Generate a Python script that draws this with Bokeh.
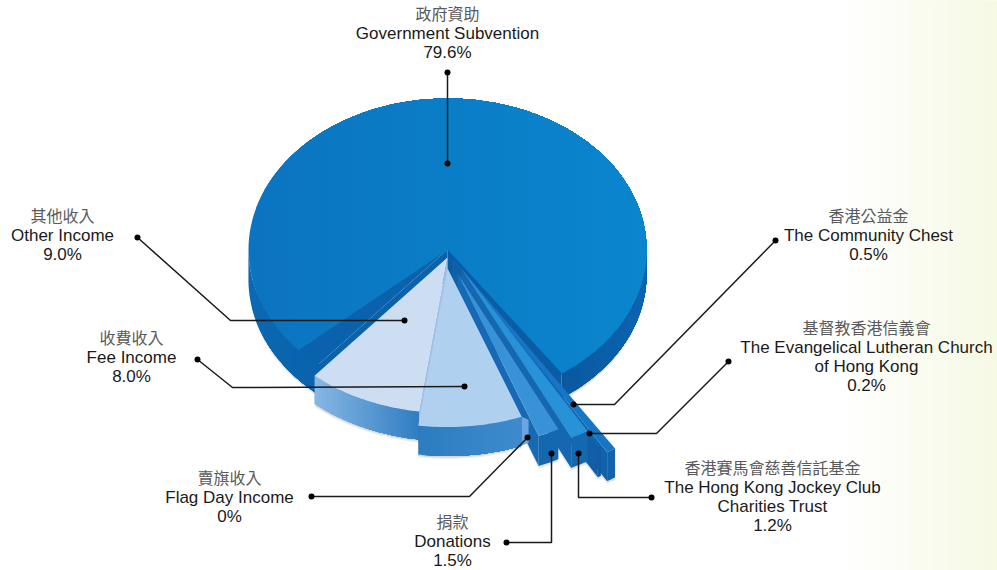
import math
from bokeh.plotting import figure
from bokeh.models import Range1d
from bokeh.core.properties import value
from bokeh.embed import file_html
from bokeh.resources import INLINE

# ---- data ----
categories_zh = ["政府資助", "香港公益金", "基督教香港信義會", "香港賽馬會慈善信託基金", "捐款", "賣旗收入", "收費收入", "其他收入"]
categories_en = ["Government Subvention", "The Community Chest", "The Evangelical Lutheran Church of Hong Kong",
                 "The Hong Kong Jockey Club Charities Trust", "Donations", "Flag Day Income", "Fee Income", "Other Income"]
shares = [79.6, 0.5, 0.2, 1.2, 1.5, 0.0, 8.0, 9.0]
share_labels = ["79.6%", "0.5%", "0.2%", "1.2%", "1.5%", "0%", "8.0%", "9.0%"]

W, H = 997, 570
CX, CY, RX, RY = 447, 249, 199, 151
START = 147.0   # clockwise from top, where the small slices begin

p = figure(width=W, height=H, x_range=Range1d(0, W), y_range=Range1d(H, 0),
           output_backend="svg", toolbar_location=None, min_border=0,
           background_fill_color="white", border_fill_color=None, outline_line_color=None)
p.axis.visible = False
p.grid.visible = False

def mix(c1, c2, f):
    f = max(0, min(1, f))
    return "#%02x%02x%02x" % tuple(round(a + (b - a) * f) for a, b in zip(c1, c2))

# background gradient at right (painted overlapping, so no seams)
for x in range(836, 997, 4):
    p.quad(left=[x], right=[997], top=[0], bottom=[570],
           color=mix((255, 255, 255), (245, 249, 228), (x - 836) / 160), line_color=None)

def pt(a, ax, ay, k, dy=0):
    r = math.radians(a)
    return ax + RX * k * math.sin(r), ay - RY * k * math.cos(r) + dy

def poly(points, color, alpha=1.0):
    p.patch([q[0] for q in points], [q[1] for q in points], fill_color=color, fill_alpha=alpha, line_color=None)

def arc(a0, a1, ax, ay, k, dy=0, step=1.0):
    n = max(1, int(abs(a1 - a0) / step))
    return [pt(a0 + (a1 - a0) * i / n, ax, ay, k, dy) for i in range(n + 1)]

def clip_right(points, c):
    out = []
    for i, q in enumerate(points):
        r = points[(i + 1) % len(points)]
        if q[0] >= c:
            out.append(q)
        if (q[0] >= c) != (r[0] >= c):
            f = (c - q[0]) / (r[0] - q[0])
            out.append((c, q[1] + f * (r[1] - q[1])))
    return out

def hgrad(points, c0, c1, step=8):
    """Paint a shape with a left-to-right gradient, each band lying over the last."""
    x0 = min(q[0] for q in points)
    x1 = max(q[0] for q in points)
    poly(points, mix(c0, c0, 0))
    x = x0 + step
    while x < x1:
        part = clip_right(points, x)
        if len(part) > 2:
            poly(part, mix(c0, c1, (x - x0) / (x1 - x0)))
        x += step

def wall(a0, a1, ax, ay, k, h, c_left, c_right, step=4):
    lo, hi = max(a0, 90), min(a1, 270)
    hgrad(arc(lo, hi, ax, ay, k) + arc(hi, lo, ax, ay, k, h), c_left, c_right, step)

def shadow(a0, a1, ax, ay, k, h):
    lo, hi = max(a0, 90), min(a1, 270)
    for d, al in ((3, .07), (1.5, .10)):
        poly(arc(lo, hi, ax, ay, k) + arc(hi, lo, ax, ay, k, h + d), "#000000", al)

def face(ang_, ax, ay, k, h, color):
    poly([(ax, ay), pt(ang_, ax, ay, k), pt(ang_, ax, ay, k, h), (ax, ay + h)], color)

def small(a0, a1, ax, ay, k, h, c_top, c_wall, c_left):
    poly([(ax, ay + h), pt(a1, ax, ay, k, h + 2.5), pt(a0, ax, ay, k, h + 2.5)], "#000000", 0.10)
    face(a1, ax, ay, k, h, c_left)
    poly(arc(a0, a1, ax, ay, k) + arc(a1, a0, ax, ay, k, h), c_wall)
    poly([(ax, ay)] + arc(a0, a1, ax, ay, k), c_top)

# angles from the shares
ang = {}
a = START
for name, s in zip(categories_en[1:], shares[1:]):
    ang[name] = (a, a + s * 3.6)
    a += s * 3.6
end_small = a
main_span = shares[0] * 3.6
m0, m1 = end_small + 8, end_small + main_span - 2

# main slice
shadow(end_small, 270, CX, CY, 1.0, 30)
shadow(90, START - 2, CX, CY, 1.0, 25)
wall(end_small, 270, CX, CY, 1.0, 30, (11, 104, 178), (10, 98, 170))
wall(90, START - 2, CX, CY, 1.0, 25, (10, 88, 160), (12, 100, 176))
face(end_small, CX, CY, 1.0, 30, "#0a62ad")
poly([(CX, CY)] + arc(end_small, m0, CX, CY, 1.0), "#0a62ad")
hgrad([(CX, CY)] + arc(m0, m1, CX, CY, 1.0), (11, 116, 192), (10, 134, 206))
face(START - 2, CX, CY, 1, 26, "#0b5ba5")

w = lambda n: ang[n]
small(*w("The Community Chest"), 452, 258, 1.50, 29, "#1676c3", "#1262ac", "#1062ab")
aa, bb = w("The Evangelical Lutheran Church of Hong Kong")
small(aa, bb, 454, 262, 1.42, 30, "#0e66b2", "#105ca5", "#115ea6")
small(*w("The Hong Kong Jockey Club Charities Trust"), 461, 268, 1.25, 30, "#2892d8", "#1468b0", "#1568b0")
small(*w("Donations"), 457, 273, 1.15, 30, "#3a92d6", "#1468b0", "#1769b3")

# other income
aa, bb = w("Other Income")
shadow(aa, bb, 447, 257, 1.03, 28)
face(aa, 447, 257, 1.03, 26, "#9fbfe6")
wall(aa, bb, 447, 257, 1.03, 28, (134, 182, 228), (46, 124, 192))
poly([(447, 257)] + arc(aa, bb, 447, 257, 1.03), "#cddef2")

# fee income with the zero-width Flag Day sliver at its edge
aa, bb = w("Fee Income")
fa, fb = w("Flag Day Income")
tx, ty = pt(fa, 447, 268, 1.05)
poly([(tx, ty), (tx + 7, ty + 3), (tx + 7, ty + 26), (tx, ty + 29)], "#6da6de")
shadow(aa, bb, 447, 268, 1.05, 29)
face(aa, 447, 268, 1.05, 29, "#6fa8de")
wall(aa, bb, 447, 268, 1.05, 29, (44, 124, 192), (62, 140, 206))
poly([(447, 268)] + arc(aa, bb, 447, 268, 1.05), "#b0d0f0")

# leaders
leaders = [
    ([447, 447], [72, 163]),
    ([137, 230, 404], [237, 320, 320]),
    ([197, 232, 464], [359, 387, 386]),
    ([311, 469, 527], [496, 496, 437]),
    ([506, 551, 551], [542, 542, 453]),
    ([651, 578, 578], [497, 497, 453]),
    ([728, 656, 589], [361, 433, 433]),
    ([775, 614, 573], [240, 404, 404]),
]
for xs_, ys_ in leaders:
    p.line(xs_, ys_, line_color="#1a1a1a", line_width=1.5)
    p.scatter([xs_[0], xs_[-1]], [ys_[0], ys_[-1]], size=6, color="#000000", line_color=None)

def en_lines(i):
    return {2: ["The Evangelical Lutheran Church", "of Hong Kong"],
            3: ["The Hong Kong Jockey Club", "Charities Trust"]}.get(i, [categories_en[i]])

placement = {0: (447, 14), 1: (868, 216), 2: (866, 328), 3: (772, 468),
             4: (452, 522), 5: (229, 478), 6: (131, 338), 7: (62, 216)}
for i, (x, y) in placement.items():
    p.text([x], [y - 2], text=[categories_zh[i]], text_font=value("Noto Sans CJK TC"), text_font_size="16px",
           text_color="#5a5a5a", text_align="center", text_baseline="middle")
    yy = y + 18.7
    for line in en_lines(i) + [share_labels[i]]:
        p.text([x], [yy], text=[line], text_font=value("Liberation Sans"), text_font_size="17px",
               text_color="#1a1a1a", text_align="center", text_baseline="middle")
        yy += 19.3

open("out.html", "w").write(file_html(p, INLINE))
